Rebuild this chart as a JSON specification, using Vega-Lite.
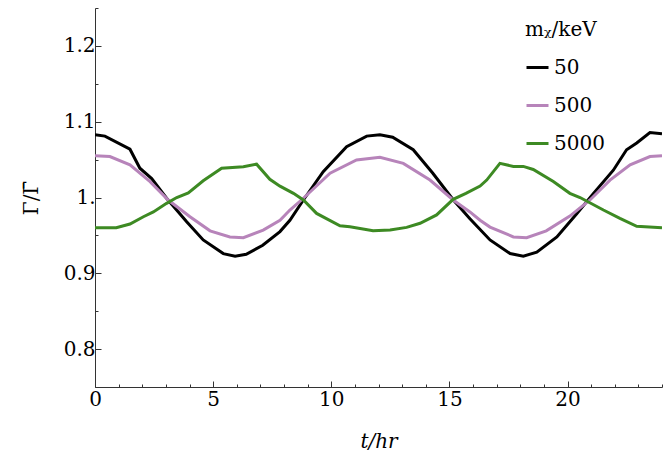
{
  "$schema": "https://vega.github.io/schema/vega-lite/v6.json",
  "autosize": {"type": "none"},
  "padding": {"left": 95, "top": 8, "right": 8, "bottom": 75},
  "width": 567,
  "height": 379,
  "background": "white",
  "config": {
    "view": {"stroke": null},
    "font": "DejaVu Serif",
    "axis": {"labelFont": "DejaVu Serif", "titleFont": "DejaVu Serif", "labelFontSize": 20, "titleFontSize": 20, "titleFontWeight": "normal", "labelColor": "#000", "titleColor": "#000", "domainColor": "#333", "tickColor": "#333", "grid": false},
    "legend": {"labelFont": "DejaVu Serif", "titleFont": "DejaVu Serif"}
  },
  "data": {"values": [
    {"t": 0, "r": 1.0827, "m": "50"}, {"t": 0.42, "r": 1.081, "m": "50"}, {"t": 1.48, "r": 1.0637, "m": "50"}, {"t": 1.9, "r": 1.0386, "m": "50"}, {"t": 2.4, "r": 1.025, "m": "50"}, {"t": 3.03, "r": 0.999, "m": "50"}, {"t": 3.88, "r": 0.968, "m": "50"}, {"t": 4.58, "r": 0.944, "m": "50"}, {"t": 5.43, "r": 0.926, "m": "50"}, {"t": 5.93, "r": 0.9226, "m": "50"}, {"t": 6.4, "r": 0.925, "m": "50"}, {"t": 7.1, "r": 0.937, "m": "50"}, {"t": 7.83, "r": 0.955, "m": "50"}, {"t": 8.25, "r": 0.970, "m": "50"}, {"t": 8.82, "r": 0.9967, "m": "50"}, {"t": 9.66, "r": 1.034, "m": "50"}, {"t": 10.65, "r": 1.067, "m": "50"}, {"t": 11.5, "r": 1.081, "m": "50"}, {"t": 12.06, "r": 1.0827, "m": "50"}, {"t": 12.6, "r": 1.0796, "m": "50"}, {"t": 13.47, "r": 1.063, "m": "50"}, {"t": 14.3, "r": 1.032, "m": "50"}, {"t": 15.16, "r": 0.997, "m": "50"}, {"t": 15.87, "r": 0.972, "m": "50"}, {"t": 16.72, "r": 0.944, "m": "50"}, {"t": 17.57, "r": 0.926, "m": "50"}, {"t": 18.13, "r": 0.9226, "m": "50"}, {"t": 18.7, "r": 0.928, "m": "50"}, {"t": 19.55, "r": 0.948, "m": "50"}, {"t": 20.4, "r": 0.979, "m": "50"}, {"t": 21.1, "r": 1.0055, "m": "50"}, {"t": 21.94, "r": 1.036, "m": "50"}, {"t": 22.5, "r": 1.063, "m": "50"}, {"t": 22.93, "r": 1.072, "m": "50"}, {"t": 23.49, "r": 1.0857, "m": "50"}, {"t": 24, "r": 1.084, "m": "50"},
    {"t": 0, "r": 1.055, "m": "500"}, {"t": 0.63, "r": 1.054, "m": "500"}, {"t": 1.48, "r": 1.043, "m": "500"}, {"t": 2.33, "r": 1.021, "m": "500"}, {"t": 3.1, "r": 0.9967, "m": "500"}, {"t": 4.02, "r": 0.9746, "m": "500"}, {"t": 4.87, "r": 0.956, "m": "500"}, {"t": 5.71, "r": 0.948, "m": "500"}, {"t": 6.28, "r": 0.947, "m": "500"}, {"t": 7.12, "r": 0.957, "m": "500"}, {"t": 7.83, "r": 0.970, "m": "500"}, {"t": 8.25, "r": 0.9835, "m": "500"}, {"t": 8.82, "r": 0.999, "m": "500"}, {"t": 9.95, "r": 1.032, "m": "500"}, {"t": 11.07, "r": 1.0496, "m": "500"}, {"t": 12.06, "r": 1.053, "m": "500"}, {"t": 13.05, "r": 1.045, "m": "500"}, {"t": 14.18, "r": 1.023, "m": "500"}, {"t": 15.16, "r": 0.9967, "m": "500"}, {"t": 15.87, "r": 0.981, "m": "500"}, {"t": 16.3, "r": 0.970, "m": "500"}, {"t": 16.72, "r": 0.961, "m": "500"}, {"t": 17.71, "r": 0.948, "m": "500"}, {"t": 18.27, "r": 0.947, "m": "500"}, {"t": 19.1, "r": 0.956, "m": "500"}, {"t": 20.1, "r": 0.9755, "m": "500"}, {"t": 20.95, "r": 0.9967, "m": "500"}, {"t": 21.8, "r": 1.023, "m": "500"}, {"t": 22.65, "r": 1.043, "m": "500"}, {"t": 23.49, "r": 1.054, "m": "500"}, {"t": 24, "r": 1.055, "m": "500"},
    {"t": 0, "r": 0.96, "m": "5000"}, {"t": 0.9, "r": 0.96, "m": "5000"}, {"t": 1.48, "r": 0.965, "m": "5000"}, {"t": 2.05, "r": 0.9746, "m": "5000"}, {"t": 2.47, "r": 0.981, "m": "5000"}, {"t": 3.03, "r": 0.9923, "m": "5000"}, {"t": 3.46, "r": 1.0, "m": "5000"}, {"t": 3.95, "r": 1.006, "m": "5000"}, {"t": 4.58, "r": 1.022, "m": "5000"}, {"t": 5.36, "r": 1.0386, "m": "5000"}, {"t": 6.28, "r": 1.0407, "m": "5000"}, {"t": 6.84, "r": 1.044, "m": "5000"}, {"t": 7.4, "r": 1.024, "m": "5000"}, {"t": 7.83, "r": 1.015, "m": "5000"}, {"t": 8.4, "r": 1.0055, "m": "5000"}, {"t": 8.82, "r": 0.9967, "m": "5000"}, {"t": 9.38, "r": 0.979, "m": "5000"}, {"t": 10.37, "r": 0.9627, "m": "5000"}, {"t": 10.79, "r": 0.9614, "m": "5000"}, {"t": 11.77, "r": 0.956, "m": "5000"}, {"t": 12.49, "r": 0.957, "m": "5000"}, {"t": 13.19, "r": 0.9606, "m": "5000"}, {"t": 13.76, "r": 0.966, "m": "5000"}, {"t": 14.46, "r": 0.977, "m": "5000"}, {"t": 15.16, "r": 0.9976, "m": "5000"}, {"t": 15.7, "r": 1.0055, "m": "5000"}, {"t": 16.3, "r": 1.015, "m": "5000"}, {"t": 16.58, "r": 1.023, "m": "5000"}, {"t": 17.14, "r": 1.045, "m": "5000"}, {"t": 17.71, "r": 1.041, "m": "5000"}, {"t": 18.13, "r": 1.041, "m": "5000"}, {"t": 18.55, "r": 1.037, "m": "5000"}, {"t": 19.4, "r": 1.021, "m": "5000"}, {"t": 20.1, "r": 1.0055, "m": "5000"}, {"t": 20.53, "r": 1.0, "m": "5000"}, {"t": 21.52, "r": 0.9835, "m": "5000"}, {"t": 22.22, "r": 0.9725, "m": "5000"}, {"t": 22.93, "r": 0.962, "m": "5000"}, {"t": 24, "r": 0.96, "m": "5000"}
  ]},
  "mark": {"type": "line", "strokeWidth": 3, "clip": true},
  "encoding": {
    "x": {"field": "t", "type": "quantitative", "scale": {"domain": [0, 24], "nice": false, "zero": false},
      "axis": {"title": "t/hr", "titleFontStyle": "italic", "values": [0,1,2,3,4,5,6,7,8,9,10,11,12,13,14,15,16,17,18,19,20,21,22,23,24],
        "labelExpr": "datum.value % 5 === 0 && datum.value < 24 ? datum.label : ''",
        "tickSize": {"condition": {"test": "datum.value % 5 === 0", "value": -6}, "value": -3},
        "labelPadding": 8, "titlePadding": 22, "labelFlush": false}},
    "y": {"field": "r", "type": "quantitative", "scale": {"domain": [0.75, 1.25], "nice": false, "zero": false},
      "axis": {"title": "Γ/Γ̄", "values": [0.75,0.8,0.85,0.9,0.95,1,1.05,1.1,1.15,1.2,1.25],
        "labelExpr": "abs(datum.value*10 - round(datum.value*10)) < 0.001 && datum.value < 1.24 && datum.value > 0.76 ? (abs(datum.value - 1) < 0.001 ? '1.' : format(datum.value, '.1f')) : ''",
        "tickSize": {"condition": {"test": "abs(datum.value*10 - round(datum.value*10)) < 0.001", "value": -6}, "value": -3},
        "labelPadding": 6, "titlePadding": 22, "labelFlush": false}},
    "color": {"field": "m", "type": "nominal", "sort": ["50", "500", "5000"],
      "scale": {"domain": ["50", "500", "5000"], "range": ["#000000", "#b784ba", "#3d8a23"]},
      "legend": {"title": "mᵪ/keV", "orient": "none", "legendX": 430, "legendY": 12, "titleFontSize": 20, "titleFontWeight": "normal", "titleColor": "#000", "labelFontSize": 20, "labelColor": "#000", "symbolType": "stroke", "symbolStrokeWidth": 3, "symbolSize": 484, "labelOffset": 4, "rowPadding": 15, "titlePadding": 15, "padding": 0}}
  }
}
